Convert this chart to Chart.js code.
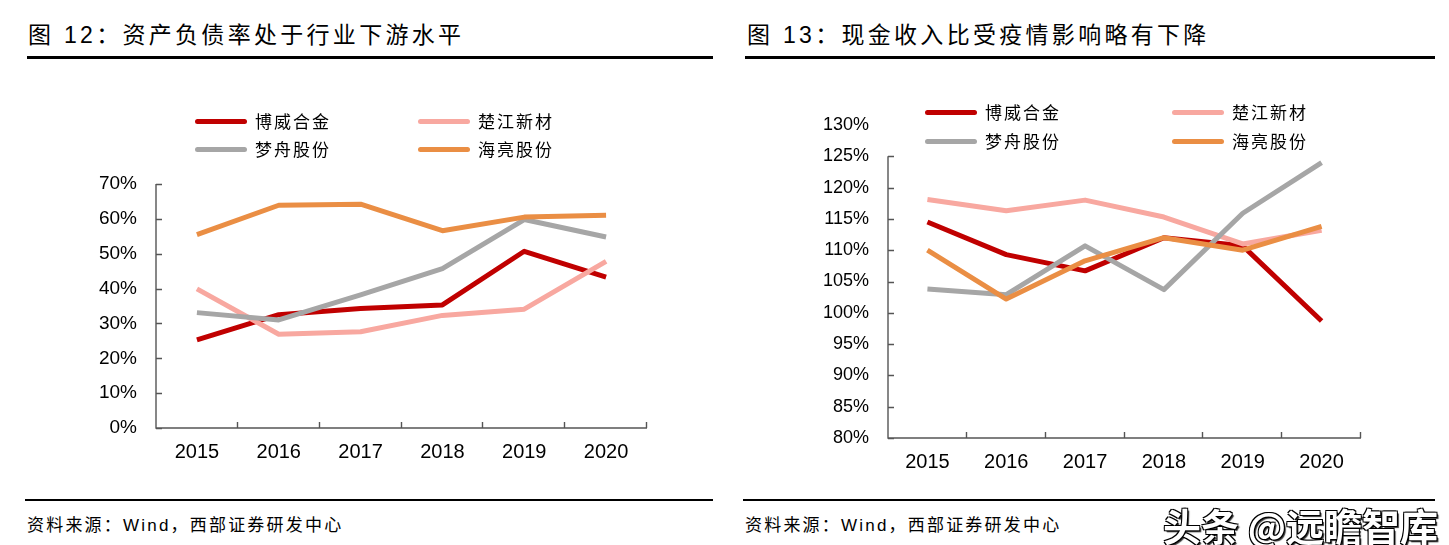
<!DOCTYPE html>
<html>
<head>
<meta charset="utf-8">
<script src="https://cdn.jsdelivr.net/npm/chart.js@4/dist/chart.umd.min.js"></script>
<style>
  body { margin:0; background:#fff; width:1449px; height:545px; position:relative; overflow:hidden; font-family:"Liberation Sans","Noto Sans CJK SC",sans-serif; }
  .title { position:absolute; top:16px; font-size:23px; letter-spacing:3.3px; color:#000; white-space:nowrap; }
  .rule { position:absolute; height:2.5px; background:#000; }
  .src { position:absolute; top:511px; font-size:17px; letter-spacing:2.2px; color:#000; white-space:nowrap; }
  .lg { position:absolute; font-size:17px; letter-spacing:2px; color:#000; white-space:nowrap; font-family:"Noto Sans CJK SC",sans-serif; }
  .lg i { position:absolute; height:5px; border-radius:3px; }
  .lg span { position:absolute; top:-13px; }
  canvas { position:absolute; top:0; }
  .wm { position:absolute; left:1163px; top:497px; font-size:38px; color:#fff; white-space:nowrap; font-family:"Noto Sans CJK SC",sans-serif; font-weight:bold;
        text-shadow:1px 1px 0 #000,-1px -1px 0 #000,1px -1px 0 #000,-1px 1px 0 #000,2px 2px 1px #333; }
</style>
</head>
<body>
<div class="title" style="left:28px">图 12：资产负债率处于行业下游水平</div>
<div class="title" style="left:747px">图 13：现金收入比受疫情影响略有下降</div>
<div class="rule" style="left:27px;width:686px;top:56px"></div>
<div class="rule" style="left:745px;width:690px;top:56px"></div>
<div class="rule" style="left:25px;width:688px;top:499px;height:2px"></div>
<div class="rule" style="left:743px;width:692px;top:499px;height:2px"></div>
<div class="src" style="left:27px">资料来源：Wind，西部证券研发中心</div>
<div class="src" style="left:745px">资料来源：Wind，西部证券研发中心</div>

<canvas id="c1" width="724" height="545" style="left:0"></canvas>
<canvas id="c2" width="725" height="545" style="left:724px"></canvas>
<div id="lg1"></div>
<div id="lg2"></div>
<div class="wm">头条 @远瞻智库</div>

<script>
// 年份
const years = ['2015', '2016', '2017', '2018', '2019', '2020'];
const names = ['博威合金', '楚江新材', '梦舟股份', '海亮股份'];
const colors = ['#C00000', '#F8A8A0', '#A6A6A6', '#EA8E44'];

// 图12 资产负债率 (%)
const debtBowei   = [25.3, 32.5, 34.3, 35.3, 50.7, 43.3];
const debtChujiang = [39.9, 26.9, 27.6, 32.3, 34.1, 47.8];
const debtMengzhou = [33.1, 31.0, 38.2, 45.7, 59.8, 54.8];
const debtHailiang = [55.5, 63.9, 64.2, 56.6, 60.5, 61.0];

// 图13 现金收入比 (%)
const cashBowei    = [114.5, 109.3, 106.7, 112.0, 110.7, 98.7];
const cashChujiang = [118.1, 116.3, 118.0, 115.3, 111.0, 113.2];
const cashMengzhou = [103.8, 102.9, 110.7, 103.7, 115.9, 124.0];
const cashHailiang = [110.0, 102.2, 108.3, 112.0, 110.0, 113.8];

function legendHtml(id, x1, x2, y1, y2) {
    const pos = [[x1, y1], [x2, y1], [x1, y2], [x2, y2]];
    document.getElementById(id).innerHTML = names.map((n, i) => `
        <div class="lg" style="left:${pos[i][0]}px;top:${pos[i][1]}px">
          <i style="left:0;top:-2.5px;width:52px;background:${colors[i]}"></i>
          <span style="left:60px">${n}</span>
        </div>`).join('');
}
legendHtml('lg1', 195, 418, 121, 149);
legendHtml('lg2', 925, 1172, 112, 141);

// 坐标轴：线 + 向内刻度
function axesPlugin(yStart) {
    return {
        id: 'axes',
        afterDatasetsDraw(chart) {
            const ctx = chart.ctx, x = chart.scales.x, y = chart.scales.y;
            const top = yStart != null ? y.getPixelForValue(yStart) : y.top;
            ctx.save();
            ctx.strokeStyle = '#555';
            ctx.lineWidth = 1.4;
            ctx.beginPath();
            ctx.moveTo(x.left, top); ctx.lineTo(x.left, y.bottom); ctx.lineTo(x.right, y.bottom);
            y.ticks.forEach(t => {
                if (yStart != null && t.value > yStart) return;
                const p = Math.round(y.getPixelForValue(t.value)) + 0.5;
                ctx.moveTo(x.left, p); ctx.lineTo(x.left + 6, p);
            });
            const n = years.length;
            for (let i = 1; i <= n; i++) {
                const px = Math.round(x.left + i * x.width / n) - 0.5;
                ctx.moveTo(px, y.bottom); ctx.lineTo(px, y.bottom - 6);
            }
            ctx.stroke();
            ctx.restore();
        }
    };
}

function makeChart(id, series, area, yMin, yMax, step, yFont, yStart) {
    new Chart(document.getElementById(id), {
        type: 'line',
        data: {
            labels: years,
            datasets: series.map((d, i) => ({
                label: names[i], data: d, borderColor: colors[i], backgroundColor: colors[i],
                borderWidth: 5, pointRadius: 0, tension: 0, order: 3 - i, borderJoinStyle: 'round'
            }))
        },
        options: {
            responsive: false, animation: false,
            layout: { padding: { left: 0, top: area.top, right: area.right, bottom: 0 } },
            plugins: { legend: { display: false }, tooltip: { enabled: false } },
            scales: {
                x: {
                    offset: true,
                    grid: { display: false, drawTicks: false },
                    border: { display: false },
                    ticks: { color: '#000', padding: 12, font: { family: 'Liberation Sans', size: 20 } },
                    afterFit: s => { s.height = area.h - area.bottom; }
                },
                y: {
                    min: yMin, max: yMax,
                    grid: { display: false, drawTicks: false },
                    border: { display: false },
                    ticks: { stepSize: step, color: '#000', padding: 19, font: { family: 'Liberation Sans', size: yFont }, callback: v => v + '%' },
                    afterFit: s => { s.width = area.left; }
                }
            }
        },
        plugins: [axesPlugin(yStart)]
    });
}

makeChart('c1', [debtBowei, debtChujiang, debtMengzhou, debtHailiang],
    { left: 156, right: 77, top: 184, bottom: 428, h: 545 }, 0, 70, 10, 19, null);
makeChart('c2', [cashBowei, cashChujiang, cashMengzhou, cashHailiang],
    { left: 164, right: 88, top: 125, bottom: 438, h: 545 }, 80, 130, 5, 18, 125);
</script>
</body>
</html>
